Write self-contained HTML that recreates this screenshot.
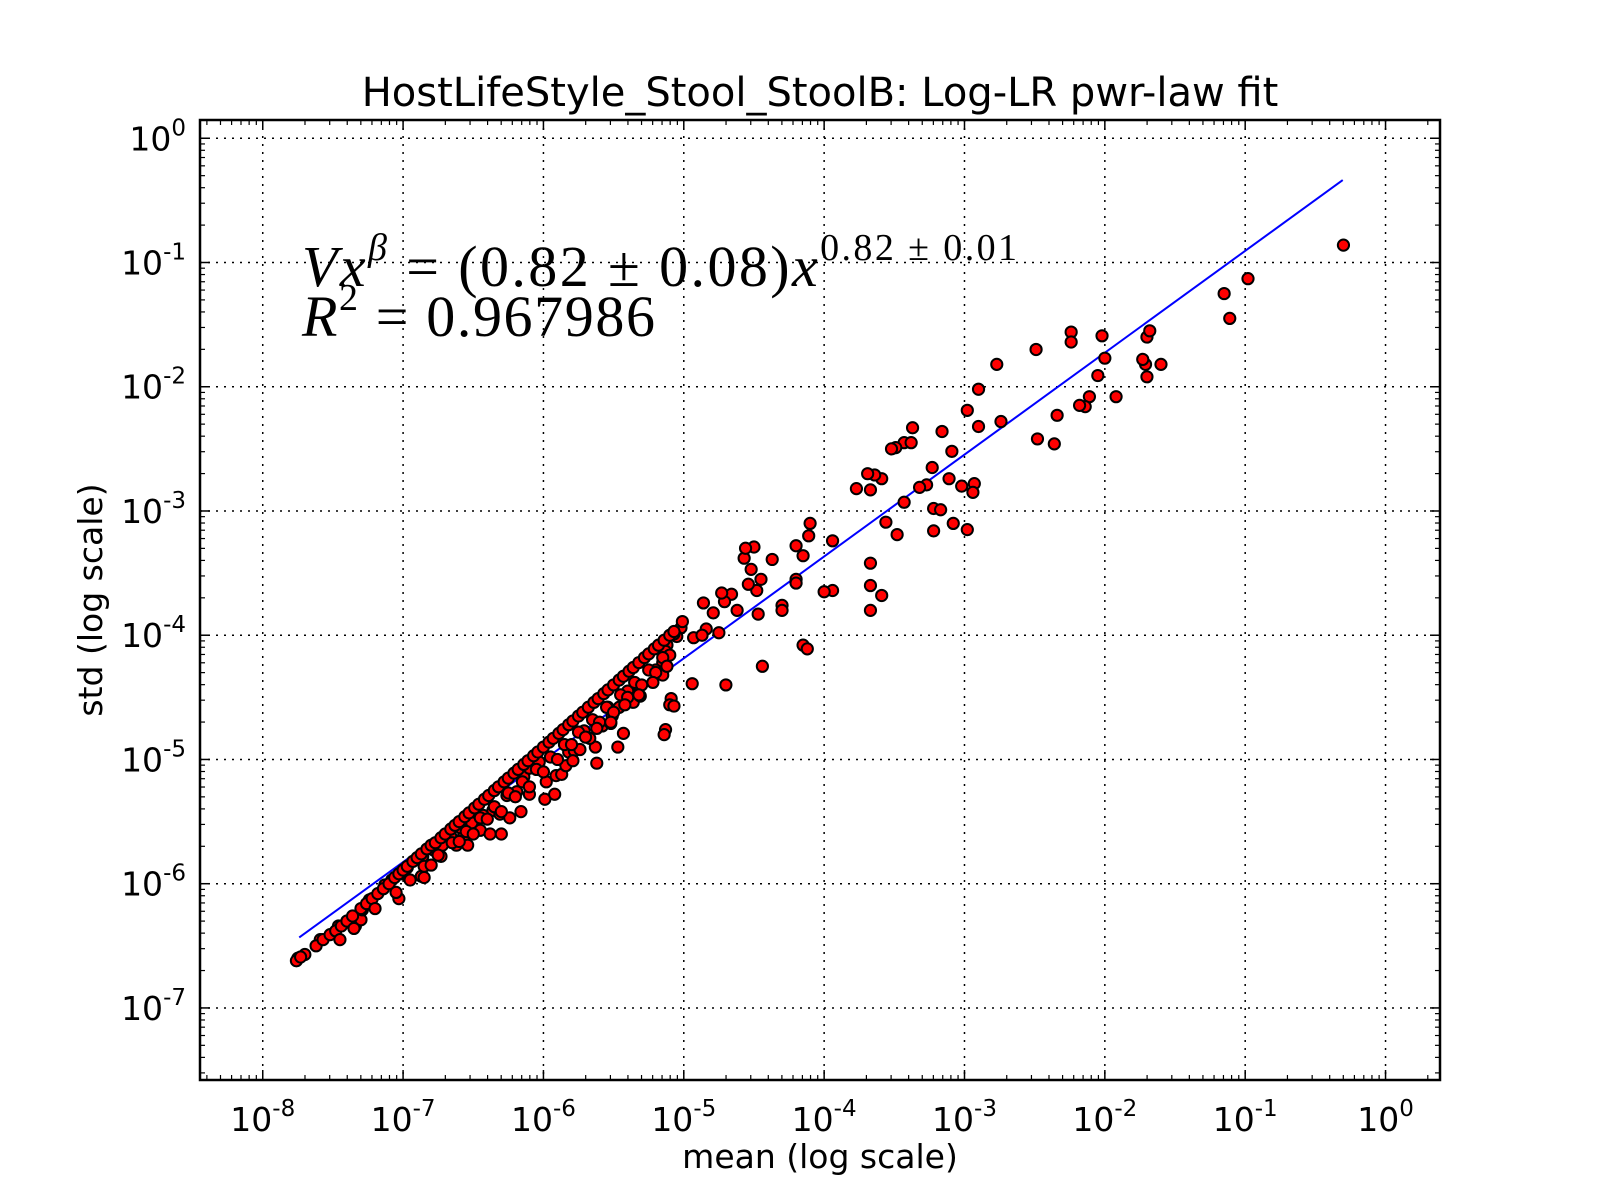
<!DOCTYPE html>
<html><head><meta charset="utf-8">
<style>
html,body{margin:0;padding:0;background:#fff;}
svg{display:block;font-family:"DejaVu Sans","Liberation Sans",sans-serif;}
</style></head>
<body>
<svg id="chart" width="1600" height="1200" viewBox="0 0 1600 1200">
<rect x="0" y="0" width="1600" height="1200" fill="#fff"/>
<g id="grid"></g>
<g id="fit"></g>
<g id="pts"></g>
<g id="axes"></g>
<text x="820" y="106" font-size="40" text-anchor="middle">HostLifeStyle_Stool_StoolB: Log-LR pwr-law fit</text>
<text x="820" y="1168" font-size="33" text-anchor="middle">mean (log scale)</text>
<text transform="translate(102,600) rotate(-90)" font-size="33" text-anchor="middle">std (log scale)</text>
<text x="302" y="286" font-family="'Liberation Serif','DejaVu Serif',serif" font-size="58" textLength="715"><tspan font-style="italic">Vx</tspan><tspan font-style="italic" font-size="38" dy="-26">β</tspan><tspan dy="26"> = (0.82 ± 0.08)</tspan><tspan font-style="italic">x</tspan><tspan font-size="38" dy="-26">0.82 ± 0.01</tspan></text>
<text x="302" y="336" font-family="'Liberation Serif','DejaVu Serif',serif" font-size="58" textLength="353"><tspan font-style="italic">R</tspan><tspan font-size="38" dy="-26">2</tspan><tspan dy="26"> = 0.967986</tspan></text>
</svg>
<script>
// data: log10(mean), log10(std)
const logMean = [
-0.30,-0.98,-1.15,-1.11,-1.71,-1.60,-1.70,-1.68,-1.70,-1.73,-2.00,-2.02,-2.24,-2.24,-2.49,-2.05,-2.11,-2.14,-2.18,-1.92,-2.34,-2.36,-2.48,-2.77,-2.74,-2.90,-2.90,-2.98,-3.09,-3.16,-2.93,-2.94,-3.02,-2.98,-3.08,-3.11,-3.27,-3.22,-3.17,-3.23,-3.22,-3.32,-3.43,-3.43,-3.37,-3.38,-3.49,-3.52,-3.59,-3.48,-3.56,-3.67,-3.64,-3.69,-3.77,-3.67,-3.67,-3.59,-3.67,-3.94,-3.94,-4.00,-4.15,-4.12,-4.10,-4.11,-4.20,-4.15,-4.20,-4.20,-4.37,-4.50,-4.30,-4.30,-4.45,-4.44,-4.47,-4.48,-4.54,-4.57,-4.52,-4.56,-4.66,-4.62,-4.71,-4.73,-4.79,-4.75,-4.84,-4.86,-4.93,-4.87,-4.94,-4.70,-5.02,-5.01,-5.05,-5.07,-5.12,-5.13,-5.15,-5.10,-5.15,-5.20,-5.09,-5.10,-5.13,-5.14,-5.07,
-7.75,-7.70,-7.59,-7.46,-7.34,-7.30,-7.29,-7.24,-7.13,-7.03,-7.08,-7.01,-6.97,-6.87,-6.85,-6.86,-6.78,-6.73,-6.72,-6.66,-6.62,-6.57,-6.54,-6.59,-6.51,-6.45,-6.43,-6.38,-6.36,-6.30,-6.31,-6.26,-6.24,-6.16,-6.19,-6.14,-6.10,-6.10,-6.03,-5.99,-5.98,-5.92,-5.91,-5.87,-5.84,-5.82,-5.78,-5.79,-5.74,-5.71,-5.62,-5.63,-5.67,-5.58,-5.52,-5.46,-5.47,-5.40,-5.36,-5.31,-5.33,-5.51,-5.43,-5.54,
-7.76,-7.73,-7.62,-7.57,-7.52,-7.48,-7.44,-7.40,-7.36,-7.30,-7.26,-7.22,-7.18,-7.14,-7.10,-7.06,-7.03,-7.00,-6.97,-6.93,-6.90,-6.87,-6.83,-6.80,-6.77,-6.73,-6.70,-6.66,-6.63,-6.60,-6.56,-6.53,-6.49,-6.46,-6.42,-6.39,-6.35,-6.32,-6.28,-6.25,-6.21,-6.18,-6.14,-6.11,-6.07,-6.04,-6.00,-5.96,-5.93,-5.89,-5.86,-5.82,-5.79,-5.75,-5.72,-5.68,-5.64,-5.61,-5.57,-5.54,-5.50,-5.46,-5.43,-5.39,-5.36,-5.32,-5.28,-5.25,-5.21,-5.18,-5.14,-5.10,-5.07,
-7.45,-7.35,-7.20,-7.05,-6.95,-6.85,-6.75,-6.65,-6.55,-6.45,-6.35,-6.25,-6.15,-6.05,-5.95,-5.85,-5.75,-5.65,-5.55,-5.45,-5.35,-5.25,-5.15,-5.30,-5.20,-5.40,-5.60,-5.80,-6.00,-6.20,-6.40,-6.60,-6.80,-6.50,-6.30,-6.10,-5.90,-5.70,-5.50,-5.42,-5.22,-5.12,-5.32,-5.52,-5.62
];
const logStd = [
-0.86,-1.13,-1.25,-1.45,-1.82,-1.82,-1.60,-1.55,-1.92,-1.78,-1.77,-1.59,-1.56,-1.64,-1.70,-1.91,-2.08,-2.16,-2.15,-2.08,-2.23,-2.46,-2.42,-1.82,-2.28,-2.02,-2.32,-2.19,-2.52,-2.36,-2.78,-2.85,-2.80,-3.15,-3.10,-2.74,-2.79,-2.98,-2.99,-2.65,-3.16,-2.81,-2.93,-2.45,-2.33,-2.45,-2.49,-2.50,-2.74,-3.19,-3.09,-2.83,-2.71,-2.70,-2.82,-3.42,-3.60,-3.68,-3.80,-3.24,-3.64,-3.65,-4.08,-4.11,-3.10,-3.20,-3.28,-3.36,-3.55,-3.58,-3.39,-3.29,-3.76,-3.80,-3.55,-4.25,-3.83,-3.64,-3.59,-3.38,-3.47,-3.30,-3.67,-3.80,-3.73,-3.66,-3.82,-3.98,-3.95,-3.74,-4.02,-4.00,-4.39,-4.40,-3.94,-3.89,-4.01,-3.99,-4.08,-4.13,-4.22,-4.16,-4.32,-4.28,-4.51,-4.56,-4.76,-4.80,-4.57,
-6.60,-6.57,-6.45,-6.34,-6.34,-6.29,-6.21,-6.13,-6.01,-6.12,-5.97,-5.92,-5.87,-5.94,-5.95,-5.78,-5.73,-5.78,-5.69,-5.62,-5.69,-5.62,-5.69,-5.55,-5.51,-5.57,-5.45,-5.60,-5.41,-5.60,-5.44,-5.29,-5.47,-5.42,-5.26,-5.14,-5.28,-5.07,-5.02,-5.32,-5.18,-5.28,-5.13,-5.12,-5.05,-4.94,-4.93,-5.01,-4.92,-4.77,-5.03,-4.90,-4.83,-4.73,-4.71,-4.58,-4.90,-4.45,-4.54,-4.49,-4.40,-4.65,-4.79,-4.58,
-6.62,-6.59,-6.50,-6.45,-6.41,-6.38,-6.34,-6.30,-6.26,-6.20,-6.16,-6.12,-6.08,-6.04,-6.00,-5.95,-5.92,-5.89,-5.86,-5.82,-5.79,-5.76,-5.72,-5.69,-5.67,-5.63,-5.60,-5.56,-5.53,-5.50,-5.46,-5.43,-5.39,-5.36,-5.32,-5.29,-5.25,-5.22,-5.18,-5.15,-5.11,-5.08,-5.04,-5.01,-4.97,-4.94,-4.90,-4.86,-4.83,-4.79,-4.76,-4.72,-4.69,-4.65,-4.62,-4.58,-4.54,-4.51,-4.47,-4.44,-4.40,-4.36,-4.33,-4.29,-4.26,-4.22,-4.18,-4.15,-4.11,-4.08,-4.04,-4.00,-3.97,
-6.45,-6.36,-6.20,-6.07,-5.97,-5.86,-5.77,-5.67,-5.58,-5.47,-5.38,-5.27,-5.18,-5.08,-4.98,-4.88,-4.78,-4.68,-4.58,-4.48,-4.38,-4.28,-4.18,-4.40,-4.30,-4.50,-4.70,-4.88,-5.10,-5.30,-5.48,-5.66,-5.85,-5.60,-5.42,-5.22,-5.00,-4.82,-4.62,-4.56,-4.38,-4.25,-4.48,-4.70,-4.75
];
const fitCoef = 0.82, fitExp = 0.82;
const fitRange = [-7.74, -0.305];
const xTickExps = [-8,-7,-6,-5,-4,-3,-2,-1,0];
const yTickExps = [0,-1,-2,-3,-4,-5,-6,-7];

const NS = "http://www.w3.org/2000/svg";
const L = 200, R = 1440, T = 120, B = 1080;
const xMin = -8.447, xMax = 0.388, yMin = -7.58, yMax = 0.147;
function sx(lx){ return L + (lx - xMin) / (xMax - xMin) * (R - L); }
function sy(ly){ return B - (ly - yMin) / (yMax - yMin) * (B - T); }
function mk(tag, attrs, parent){ const e = document.createElementNS(NS, tag); for (const k in attrs) e.setAttribute(k, attrs[k]); parent.appendChild(e); return e; }

const grid = document.getElementById('grid');
const axes = document.getElementById('axes');
xTickExps.forEach(e => {
  const x = sx(e);
  const g = mk('line', {x1:x, x2:x, y1:T, y2:B, stroke:'#000', 'stroke-width':1.5, 'stroke-dasharray':'2,6'}, grid);
  
  
  [[B, B-10],[T, T+10]].forEach(p => mk('line', {x1:x, x2:x, y1:p[0], y2:p[1], stroke:'#000', 'stroke-width':1.5}, axes));
  const t = mk('text', {x:x, y:1131, 'font-size':33, 'text-anchor':'middle'}, axes);
  
  
  t.innerHTML = '10<tspan font-size="23" dy="-15">' + (e === 0 ? '0' : e) + '</tspan>';
});
for (let d = Math.floor(xMin); d < xMax; d++) for (let m = 2; m < 10; m++) {
  const v = d + Math.log10(m); if (v <= xMin || v >= xMax) continue;
  const x = sx(v);
  mk('line', {x1:x, x2:x, y1:B, y2:B-5, stroke:'#000', 'stroke-width':1.2}, axes);
  mk('line', {x1:x, x2:x, y1:T, y2:T+5, stroke:'#000', 'stroke-width':1.2}, axes);
}
yTickExps.forEach(e => {
  const y = sy(e);
  const g = mk('line', {x1:L, x2:R, y1:y, y2:y, stroke:'#000', 'stroke-width':1.5, 'stroke-dasharray':'2,6'}, grid);
  
  
  [[L, L+10],[R, R-10]].forEach(p => mk('line', {x1:p[0], x2:p[1], y1:y, y2:y, stroke:'#000', 'stroke-width':1.5}, axes));
  const t = mk('text', {x:186, y:y+12, 'font-size':33, 'text-anchor':'end'}, axes);
  
  
  t.innerHTML = '10<tspan font-size="23" dy="-15">' + (e === 0 ? '0' : e) + '</tspan>';
});
for (let d = Math.floor(yMin); d < yMax; d++) for (let m = 2; m < 10; m++) {
  const v = d + Math.log10(m); if (v <= yMin || v >= yMax) continue;
  const y = sy(v);
  mk('line', {x1:L, x2:L+5, y1:y, y2:y, stroke:'#000', 'stroke-width':1.2}, axes);
  mk('line', {x1:R, x2:R-5, y1:y, y2:y, stroke:'#000', 'stroke-width':1.2}, axes);
}
const frame = mk('rect', {x:L, y:T, width:R-L, height:B-T, fill:'none', stroke:'#000', 'stroke-width':2.5}, axes);



// fit line
const lc = Math.log10(fitCoef);
const fl = mk('line', {x1:sx(fitRange[0]), y1:sy(lc + fitExp*fitRange[0]), x2:sx(fitRange[1]), y2:sy(lc + fitExp*fitRange[1]), stroke:'#0000ff', 'stroke-width':2}, document.getElementById('fit'));



// points
const pts = document.getElementById('pts');
for (let i = 0; i < logMean.length; i++) {
  const c = mk('circle', {cx:sx(logMean[i]), cy:sy(logStd[i]), r:5.6, fill:'#ff0000', stroke:'#000', 'stroke-width':2}, pts);
  
  
}
</script>
</body></html>
